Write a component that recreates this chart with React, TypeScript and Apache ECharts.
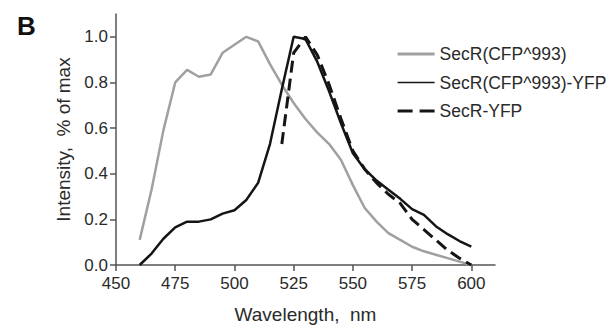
import React, { useEffect, useRef } from "react";
import * as echarts from "echarts";

const wavelengths = [460, 465, 470, 475, 480, 485, 490, 495, 500, 505, 510, 515, 520, 525, 530, 535, 540, 545, 550, 555, 560, 565, 570, 575, 580, 585, 590, 595, 600];
const cfpValues = [0.11, 0.33, 0.59, 0.80, 0.855, 0.825, 0.835, 0.93, 0.965, 1.0, 0.98, 0.88, 0.79, 0.71, 0.64, 0.58, 0.53, 0.46, 0.35, 0.25, 0.19, 0.14, 0.11, 0.08, 0.06, 0.045, 0.03, 0.015, 0.0];
const cfpYfpValues = [0.0, 0.05, 0.115, 0.165, 0.19, 0.19, 0.2, 0.225, 0.24, 0.285, 0.36, 0.53, 0.77, 1.0, 0.99, 0.89, 0.76, 0.62, 0.49, 0.42, 0.37, 0.33, 0.29, 0.245, 0.22, 0.17, 0.135, 0.105, 0.08];
const yfpWavelengths = [520, 525, 530, 535, 540, 545, 550, 555, 560, 565, 570, 575, 580, 585, 590, 595, 600];
const yfpValues = [0.53, 0.93, 1.0, 0.92, 0.79, 0.64, 0.5, 0.42, 0.36, 0.31, 0.27, 0.2, 0.155, 0.11, 0.065, 0.03, 0.0];
const xTicks = [450, 475, 500, 525, 550, 575, 600];
const yTicks = [0, 0.2, 0.4, 0.6, 0.8, 1.0];
const seriesNames = ["SecR(CFP^993)", "SecR(CFP^993)-YFP", "SecR-YFP"];

const FONT = "'Liberation Sans', Arial, sans-serif";

export default function App() {
  const ref = useRef<HTMLDivElement>(null);
  useEffect(() => {
    if (!ref.current) return;
    const chart = echarts.init(ref.current, null, { renderer: "svg" });
    const zip = (xs: number[], ys: number[]) => xs.map((x, i) => [x, ys[i]]);
    chart.setOption({
      animation: false,
      backgroundColor: "#ffffff",
      textStyle: { fontFamily: FONT },
      graphic: [
        {
          type: "text",
          left: 17,
          top: 13,
          style: { text: "B", font: `bold 26px ${FONT}`, fill: "#111" },
        },
      ],
      grid: { left: 116, right: 115, top: 14, bottom: 68, outerBoundsMode: "none" },
      legend: {
        orient: "vertical",
        left: 391,
        top: 40,
        padding: 5,
        itemWidth: 37,
        itemHeight: 18,
        itemGap: 10.5,
        itemStyle: { opacity: 0 },
        textStyle: { fontSize: 17.5, color: "#2a2a2a", fontFamily: FONT, lineHeight: 18 },
        data: [
          { name: seriesNames[0], itemStyle: { opacity: 0 }, lineStyle: { width: 3 } },
          { name: seriesNames[1], itemStyle: { opacity: 0 }, lineStyle: { width: 1.6 } },
          { name: seriesNames[2], itemStyle: { opacity: 0 }, lineStyle: { width: 3.2, type: [15, 7] } },
        ],
      },
      xAxis: {
        type: "value",
        min: 450,
        max: 610,
        interval: 25,
        name: "Wavelength,  nm",
        nameLocation: "middle",
        nameGap: 40,
        nameTextStyle: { fontSize: 19, color: "#2a2a2a", fontFamily: FONT },
        axisLine: { lineStyle: { color: "#555", width: 1.5 } },
        axisTick: { length: 6, lineStyle: { color: "#555", width: 1.5 }, customValues: xTicks },
        axisLabel: { fontSize: 17, color: "#2a2a2a", margin: 10, customValues: xTicks },
        splitLine: { show: false },
      },
      yAxis: {
        type: "value",
        min: 0,
        max: 1.1,
        interval: 0.2,
        name: "Intensity,  % of max",
        nameLocation: "middle",
        nameGap: 42,
        nameTextStyle: { fontSize: 19, color: "#2a2a2a", fontFamily: FONT },
        axisLine: { show: true, lineStyle: { color: "#555", width: 1.5 } },
        axisTick: { show: true, length: 6, lineStyle: { color: "#555", width: 1.5 }, customValues: yTicks },
        axisLabel: {
          fontSize: 17,
          color: "#2a2a2a",
          margin: 8,
          customValues: yTicks,
          formatter: (v: number) => v.toFixed(1),
        },
        splitLine: { show: false },
      },
      series: [
        {
          name: seriesNames[0],
          type: "line",
          data: zip(wavelengths, cfpValues),
          symbol: "none",
          lineStyle: { color: "#a0a0a0", width: 2.5 },
          itemStyle: { color: "#a0a0a0" },
        },
        {
          name: seriesNames[1],
          type: "line",
          data: zip(wavelengths, cfpYfpValues),
          symbol: "none",
          lineStyle: { color: "#151515", width: 2.5 },
          itemStyle: { color: "#151515" },
        },
        {
          name: seriesNames[2],
          type: "line",
          data: zip(yfpWavelengths, yfpValues),
          symbol: "none",
          lineStyle: { color: "#151515", width: 3, type: [12, 6] },
          itemStyle: { color: "#151515" },
        },
      ],
    });
    return () => chart.dispose();
  }, []);
  return <div ref={ref} style={{ position: "absolute", left: 0, top: 0, width: 610, height: 333 }} />;
}
